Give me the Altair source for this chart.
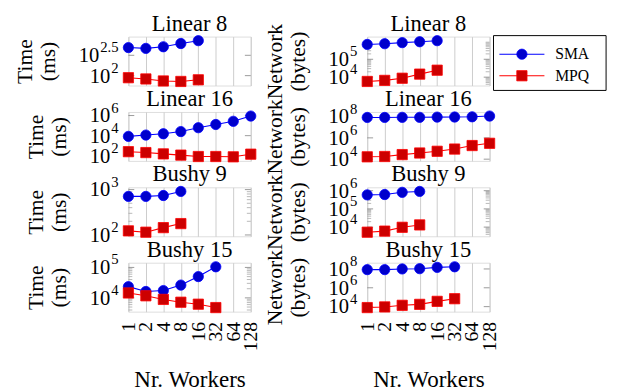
import math
import altair as alt
import pandas as pd

# ---------------- data ----------------
workers = ["1", "2", "4", "8", "16", "32", "64", "128"]
series = ["SMA", "MPQ"]

time_l8_sma = [490, 468, 513, 617, 724]
time_l8_mpq = [89, 83, 74, 72, 79]
time_l16_sma = [8500, 11500, 15500, 25700, 61700, 129000, 269000, 891000]
time_l16_mpq = [257, 209, 155, 117, 85, 85, 79, 145]
time_b9_sma = [708, 708, 741, 912]
time_b9_mpq = [123, 115, 145, 178]
time_b15_sma = [23400, 16200, 17400, 26300, 50100, 105000]
time_b15_mpq = [14500, 11700, 8900, 7200, 6200, 4800]

net_l8_sma = [676000, 741000, 851000, 955000, 1096000]
net_l8_mpq = [5750, 6600, 8700, 14800, 24500]
net_l16_sma = [8.3e7, 8.3e7, 8.5e7, 8.5e7, 8.9e7, 9.1e7, 9.5e7, 1.12e8]
net_l16_mpq = [16600, 17800, 26900, 38000, 55000, 89100, 190500, 309000]
net_b9_sma = [589000, 617000, 813000, 912000]
net_b9_mpq = [5250, 6030, 9770, 13200]
net_b15_sma = [8.5e7, 8.5e7, 1.0e8, 1.07e8, 1.48e8, 1.7e8]
net_b15_mpq = [7940, 9330, 13800, 17400, 36300, 69200]

# major y ticks: value and exponent label
ticks_time_l8 = [(100, "2"), (316.2278, "2.5")]
ticks_time_l16 = [(1e2, "2"), (1e4, "4"), (1e6, "6")]
ticks_time_b9 = [(1e2, "2"), (1e3, "3")]
ticks_time_b15 = [(1e4, "4"), (1e5, "5")]
ticks_net_l8 = [(1e4, "4"), (1e5, "5")]
ticks_net_l16 = [(1e4, "4"), (1e6, "6"), (1e8, "8")]
ticks_net_b9 = [(1e4, "4"), (1e5, "5"), (1e6, "6")]
ticks_net_b15 = [(1e4, "4"), (1e6, "6"), (1e8, "8")]

titles = ["Linear 8", "Linear 16", "Bushy 9", "Bushy 15"]
time_title = ["Time", "(ms)"]
net_title = ["Network", "(bytes)"]
x_title = "Nr. Workers"

# ---------------- style ----------------
FONT = "Liberation Serif"
W, H = 125, 50
BASE_FS, EXP_FS = 21, 15
LAB_GAP = 10          # gap between plot edge and end of the tick label
line_colors = ["#0000ff", "#ff0000"]
fill_colors = ["#0000cc", "#cc0000"]
shapes = ["circle", "square"]


def exp_width(s):
    return sum(0.25 * EXP_FS if c == "." else 0.5 * EXP_FS for c in s)


def minor_ticks(majors, dom):
    if len(majors) < 2 or abs(majors[1] / majors[0] - 10) > 0.01:
        return []
    out = []
    d0 = math.floor(math.log10(dom[0]))
    d1 = math.ceil(math.log10(dom[1]))
    for d in range(d0, d1 + 1):
        for k in range(2, 10):
            v = k * 10 ** d
            if dom[0] < v < dom[1]:
                out.append(v)
    return out


def legend_layers():
    leg_df = pd.DataFrame({"s": series})
    ly = alt.Y("s:N", scale=alt.Scale(type="point", domain=series, range=[18, 40], padding=0),
               axis=None)
    x0 = W + 4
    leg_box = alt.Chart(leg_df.head(1)).mark_rect(fillOpacity=0, stroke="black", strokeWidth=1).encode(
        x=alt.value(x0), x2=alt.value(x0 + 115), y=alt.value(-1), y2=alt.value(55))
    leg_line = alt.Chart(leg_df).mark_rule(strokeWidth=1.1).encode(
        y=ly, x=alt.value(x0 + 6), x2=alt.value(x0 + 52),
        color=alt.Color("s:N", scale=alt.Scale(domain=series, range=line_colors), legend=None))
    leg_pts = alt.Chart(leg_df).mark_point(filled=True, opacity=1, strokeWidth=0.8, size=110).encode(
        y=ly, x=alt.value(x0 + 29),
        shape=alt.Shape("s:N", scale=alt.Scale(domain=series, range=shapes), legend=None),
        fill=alt.Fill("s:N", scale=alt.Scale(domain=series, range=fill_colors), legend=None),
        stroke=alt.Stroke("s:N", scale=alt.Scale(domain=series, range=line_colors), legend=None))
    leg_txt = alt.Chart(leg_df).mark_text(align="left", baseline="middle", font=FONT,
                                          fontSize=16, color="black").encode(
        y=ly, x=alt.value(x0 + 63), text="s:N")
    return [leg_box, leg_line, leg_pts, leg_txt]


def panel(title, ytitle, sma, mpq, majors, bottom, with_legend=False):
    df = pd.DataFrame({
        "w": workers[:len(sma)] + workers[:len(mpq)],
        "s": ["SMA"] * len(sma) + ["MPQ"] * len(mpq),
        "v": sma + mpq,
    })
    lv = [math.log10(v) for v in sma + mpq]
    lo, hi = min(lv), max(lv)
    r = hi - lo
    dom = [10 ** (lo - 0.1 * r), 10 ** (hi + 0.1 * r)]
    ys = alt.Scale(type="log", domain=dom, nice=False)
    maj_vals = [m for m, _ in majors]
    lab_w = max(LAB_GAP + exp_width(e) + 1 + BASE_FS for _, e in majors)
    yaxis = alt.Axis(title=ytitle, labels=False, grid=False, ticks=False, domain=False,
                     titleFont=FONT, titleFontSize=22, titleFontWeight="normal",
                     titleColor="black", titlePadding=lab_w + 20, titleLineHeight=23)
    if bottom:
        xaxis = alt.Axis(title=x_title, labelAngle=270, labelAlign="right",
                         labelBaseline="middle", labelPadding=10, ticks=False,
                         domain=False, grid=True, gridColor="#cccccc",
                         labelFont=FONT, labelFontSize=20, labelColor="black",
                         labelOverlap=False, titleFont=FONT, titleFontSize=23.5,
                         titleFontWeight="normal", titleColor="black",
                         titlePadding=17)
    else:
        xaxis = alt.Axis(title=None, labels=False, ticks=False,
                         domain=False, grid=True, gridColor="#cccccc")
    x = alt.X("w:O", scale=alt.Scale(type="point", domain=workers, padding=0),
              axis=xaxis, sort=workers)
    y = alt.Y("v:Q", scale=ys, axis=yaxis)

    layers = []
    # inward tick marks (minor and major) on both sides
    mins = minor_ticks(maj_vals, dom)
    if mins:
        mdf = pd.DataFrame({"v": mins})
        for x0, x1 in ((0, 4), (W - 4, W)):
            layers.append(alt.Chart(mdf).mark_rule(color="#a6a6a6", strokeWidth=0.8)
                          .encode(y=y, x=alt.value(x0), x2=alt.value(x1)))
    maj = pd.DataFrame({"v": [m for m in maj_vals if dom[0] <= m <= dom[1]]})
    for x0, x1 in ((0, 6), (W - 6, W)):
        layers.append(alt.Chart(maj).mark_rule(color="#808080", strokeWidth=0.8)
                      .encode(y=y, x=alt.value(x0), x2=alt.value(x1)))

    # tick labels 10^e, drawn as base + raised exponent
    for e_str in sorted(set(e for _, e in majors)):
        ldf = pd.DataFrame({"v": [m for m, e in majors if e == e_str],
                            "base": "10", "exp": e_str})
        layers.append(alt.Chart(ldf).mark_text(align="right", baseline="middle", font=FONT,
                                               fontSize=EXP_FS, color="black", dy=-8)
                      .encode(y=y, x=alt.value(-LAB_GAP), text="exp:N"))
        layers.append(alt.Chart(ldf).mark_text(align="right", baseline="middle", font=FONT,
                                               fontSize=BASE_FS, color="black", dy=1)
                      .encode(y=y, x=alt.value(-LAB_GAP - exp_width(e_str) - 1),
                              text="base:N"))

    # panel title
    tdf = pd.DataFrame({"t": [title]})
    layers.append(alt.Chart(tdf).mark_text(align="center", baseline="alphabetic", font=FONT,
                                           fontSize=23, color="black")
                  .encode(x=alt.value(W / 2), y=alt.value(-6), text="t:N"))

    base = alt.Chart(df)
    line = base.mark_line(strokeWidth=1.1).encode(
        x=x, y=y,
        color=alt.Color("s:N", scale=alt.Scale(domain=series, range=line_colors), legend=None))
    pts = base.mark_point(filled=True, opacity=1, strokeWidth=0.8, size=110).encode(
        x=x, y=y,
        shape=alt.Shape("s:N", scale=alt.Scale(domain=series, range=shapes), legend=None),
        fill=alt.Fill("s:N", scale=alt.Scale(domain=series, range=fill_colors), legend=None),
        stroke=alt.Stroke("s:N", scale=alt.Scale(domain=series, range=line_colors), legend=None))
    ch = alt.layer(line, *layers, pts)
    if with_legend:
        ch = alt.layer(ch, *legend_layers()).resolve_scale(y="independent")
    return ch.properties(width=W, height=H)


time_sets = [(time_l8_sma, time_l8_mpq, ticks_time_l8), (time_l16_sma, time_l16_mpq, ticks_time_l16),
             (time_b9_sma, time_b9_mpq, ticks_time_b9), (time_b15_sma, time_b15_mpq, ticks_time_b15)]
net_sets = [(net_l8_sma, net_l8_mpq, ticks_net_l8), (net_l16_sma, net_l16_mpq, ticks_net_l16),
            (net_b9_sma, net_b9_mpq, ticks_net_b9), (net_b15_sma, net_b15_mpq, ticks_net_b15)]

panels = []
for i in range(4):
    bottom = i == 3
    panels.append(panel(titles[i], time_title, *time_sets[i], bottom))
    panels.append(panel(titles[i], net_title, *net_sets[i], bottom, with_legend=(i == 0)))

chart = alt.concat(*panels, columns=2, spacing={"row": 27, "column": 119}, bounds="flush").properties(
    padding={"left": 5, "top": 0, "right": 3, "bottom": 3}
).configure_view(stroke="black", strokeWidth=1).configure(background="white")

chart.save("out.html", embed_options={"renderer": "svg", "actions": False})
